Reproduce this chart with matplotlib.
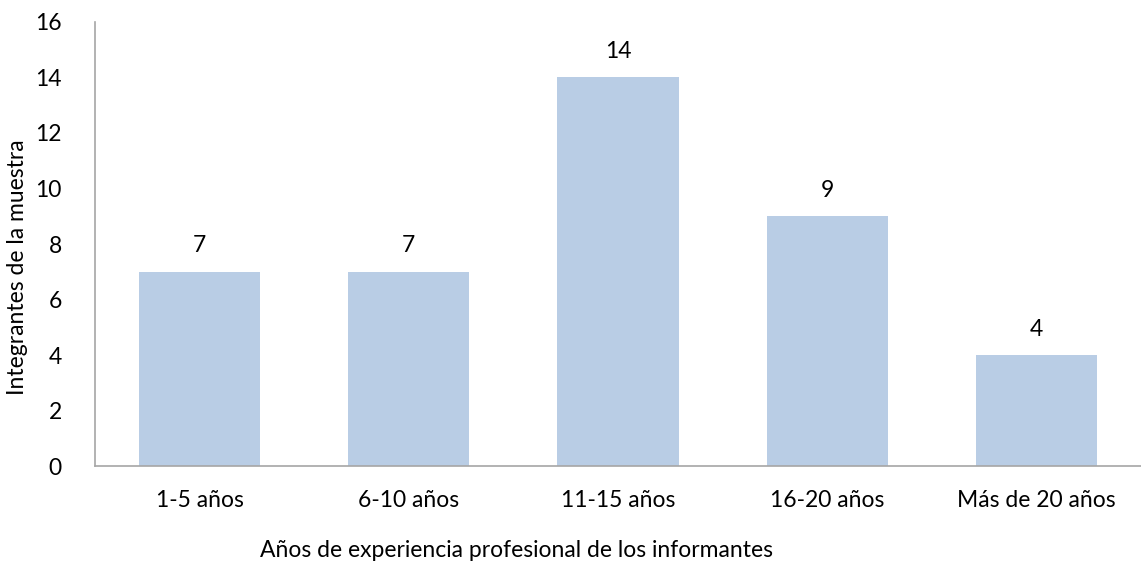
import numpy as np
import matplotlib
matplotlib.use("Agg")
import matplotlib.pyplot as plt

categories = ["1-5 años", "6-10 años", "11-15 años", "16-20 años", "Más de 20 años"]
values = [7, 7, 14, 9, 4]
y_ticks = [0, 2, 4, 6, 8, 10, 12, 14, 16]

plt.rcParams['font.family'] = ['Lato', 'DejaVu Sans']
fs = 16.5

fig = plt.figure(figsize=(11.41, 5.61), dpi=100)
ax = fig.add_axes([0.0833, 0.1693, 0.9167, 0.7915])

x = np.arange(len(categories))
ax.bar(x, values, width=0.58, color="#B9CDE5")

# value labels above bars
for xi, v in zip(x, values):
    ax.text(xi, v + 0.55, str(v), ha="center", va="bottom", fontsize=fs)

ax.set_xlim(-0.5, len(categories) - 0.5)
ax.set_ylim(0, 16)
ax.set_yticks(y_ticks)
ax.set_xticks(x)
ax.set_xticklabels(categories)
ax.tick_params(axis="both", length=0, labelsize=fs)
ax.tick_params(axis="x", pad=17)
ax.tick_params(axis="y", pad=24)

for side in ["top", "right"]:
    ax.spines[side].set_visible(False)
for side in ["left", "bottom"]:
    ax.spines[side].set_color("#A6A6A6")
    ax.spines[side].set_linewidth(1.2)

ax.set_xlabel("Años de experiencia profesional de los informantes", fontsize=fs)
ax.set_ylabel("Integrantes de la muestra", fontsize=fs)
ax.xaxis.set_label_coords(0.403, -0.167)
ax.yaxis.set_label_coords(-0.064, 0.448)

fig.savefig("out.png", dpi=100)
